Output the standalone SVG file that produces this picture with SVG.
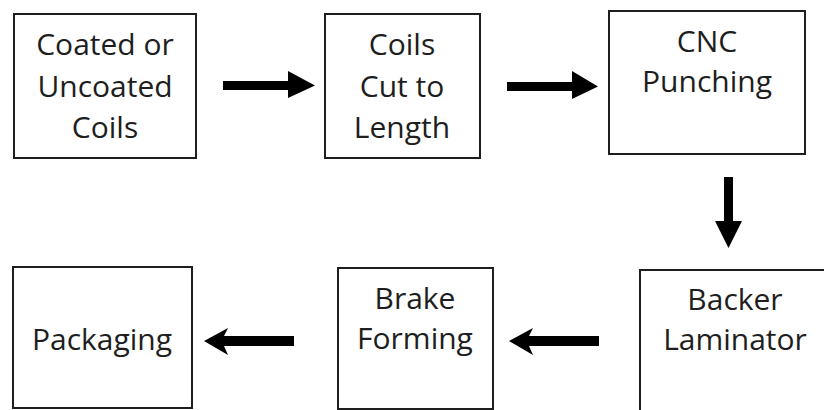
<svg xmlns="http://www.w3.org/2000/svg" width="824" height="410" viewBox="0 0 824 410">
  <style>
    .box { fill: #ffffff; stroke: #1e1e1e; stroke-width: 2; }
    .lbl { font-family: "Open Sans", "Liberation Sans", sans-serif; font-size: 30px; fill: #1e1e1e; text-anchor: middle; }
    .arrow { fill: #000000; }
  </style>
  <rect width="824" height="410" fill="#ffffff"/>

  <!-- process steps -->
  <g id="coils">
    <rect class="box" x="14" y="14" width="182" height="144"/>
    <text class="lbl" x="105" y="55">Coated or</text>
    <text class="lbl" x="105" y="97">Uncoated</text>
    <text class="lbl" x="105" y="138">Coils</text>
  </g>
  <g id="cut-to-length">
    <rect class="box" x="325" y="14" width="155" height="144"/>
    <text class="lbl" x="402" y="55">Coils</text>
    <text class="lbl" x="402" y="97">Cut to</text>
    <text class="lbl" x="402" y="138">Length</text>
  </g>
  <g id="cnc-punching">
    <rect class="box" x="609" y="11" width="196" height="143"/>
    <text class="lbl" x="707" y="52">CNC</text>
    <text class="lbl" x="707" y="92">Punching</text>
  </g>
  <g id="backer-laminator">
    <rect class="box" x="640" y="270" width="200" height="160"/>
    <text class="lbl" x="735" y="310">Backer</text>
    <text class="lbl" x="735" y="350">Laminator</text>
  </g>
  <g id="brake-forming">
    <rect class="box" x="338" y="268" width="155" height="141"/>
    <text class="lbl" x="415" y="309">Brake</text>
    <text class="lbl" x="415" y="349">Forming</text>
  </g>
  <g id="packaging">
    <rect class="box" x="13" y="267" width="179" height="141"/>
    <text class="lbl" x="102" y="350">Packaging</text>
  </g>

  <!-- connectors -->
  <g id="connectors">
    <path class="arrow" d="M223,81 H288 V71 L315,85.5 L288,98 V90 H223 Z"/>
    <path class="arrow" d="M507,82 H572 V71 L598,86.5 L572,99 V91 H507 Z"/>
    <path class="arrow" d="M724,177 H733 V221 H742 L728.5,248 L715,221 H724 Z"/>
    <path class="arrow" d="M294,336 V346 H224 L228,355 L204,341 L228,328 L224,336 Z"/>
    <path class="arrow" d="M599,336 V346 H529 L533,355 L509,341 L533,328 L529,336 Z"/>
  </g>
</svg>
